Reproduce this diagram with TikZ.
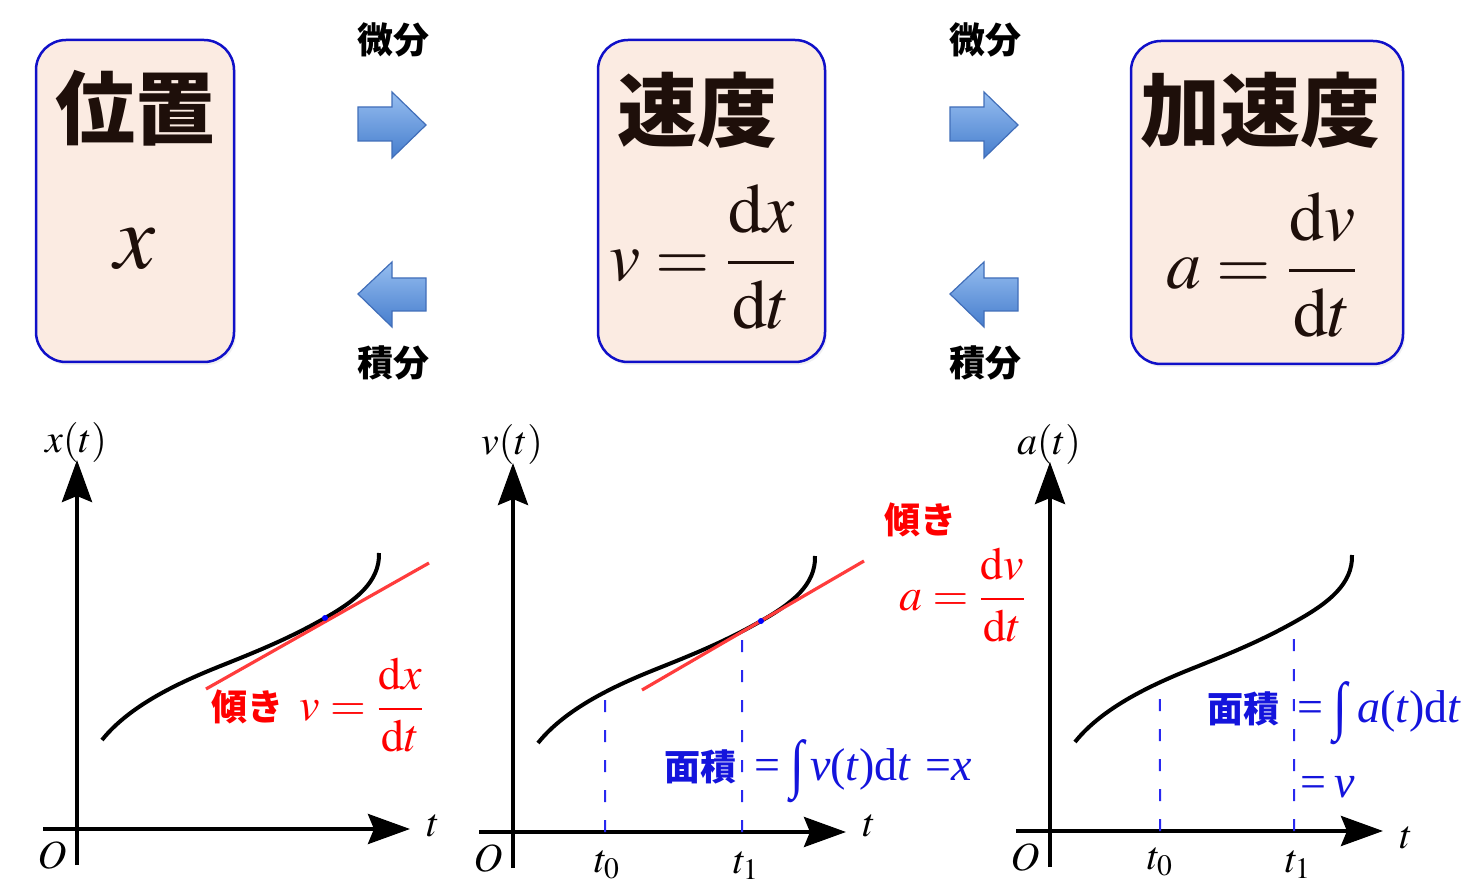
\documentclass[tikz,border=0pt]{standalone}
\usepackage{amsmath}
\usepackage{mathptmx}
\usepackage{fontspec}
\setmainfont{Liberation Serif}
\newfontfamily\jp{Noto Sans CJK JP}
\usetikzlibrary{arrows.meta,intersections,shadows}
\definecolor{hakoiro}{RGB}{251,235,226}
\definecolor{waku}{RGB}{16,16,200}
\definecolor{moji}{RGB}{30,15,10}
\definecolor{ao}{RGB}{20,20,220}
\definecolor{aosen}{RGB}{40,40,240}
\definecolor{aka}{RGB}{255,0,0}
\definecolor{akasen}{RGB}{255,60,60}
\definecolor{yaue}{RGB}{150,190,240}
\definecolor{yashita}{RGB}{70,125,205}
\definecolor{yawaku}{RGB}{65,110,185}
\newcommand\sekibunkigou{\raisebox{-0.12em}{\scalebox{1.1}[1.4]{∫}}}

\begin{document}
\begin{tikzpicture}[x=0.5pt,y=-0.5pt,
  hako/.style={draw=waku, fill=hakoiro, line width=1.25pt, rounded corners=15pt,
    drop shadow={opacity=0.12, shadow xshift=1pt, shadow yshift=-1.5pt}},
  midashi/.style={text=moji, font=\jp\bfseries\fontsize{40}{40}\selectfont, inner sep=0pt},
  shiki/.style={text=moji, font=\fontsize{35}{35}\selectfont, inner sep=0pt},
  ya/.style={top color=yaue, bottom color=yashita, draw=yawaku, line width=0.6pt},
  kotoba/.style={font=\jp\bfseries\fontsize{18}{18}\selectfont, inner sep=0pt},
  jiku/.style={line width=2pt, -{Stealth[length=21pt,width=15pt,inset=3pt]}},
  kyokusen/.style={line width=2pt},
  sessen/.style={draw=akasen, line width=1.6pt},
  hasen/.style={draw=aosen, line width=1pt, dash pattern=on 6pt off 9pt},
  ten/.style={circle, fill=blue, inner sep=0pt, minimum size=3pt},
  jikumoji/.style={font=\fontsize{20}{20}\selectfont, inner sep=0pt},
  akamoji/.style={text=aka, font=\fontsize{23}{23}\selectfont, inner sep=0pt},
  aomoji/.style={text=ao, font=\fontsize{23}{23}\selectfont, inner sep=0pt}]
\useasboundingbox (0,0) rectangle (1474,893);
\newcommand\jpb{\jp\bfseries\fontsize{18}{18}\selectfont}
\newcommand\zahyou[3]{
\coordinate (#1xs) at (43,829);
\coordinate (#1xe) at (410,829);
\coordinate (#1ys) at (77,865);
\coordinate (#1ye) at (77,460);
\draw[jiku] (#1xs) -- (#1xe);
\draw[jiku] (#1ys) -- (#1ye);
\draw[kyokusen, name path=#1k] (102,740) .. controls (130,705) and (180,682) .. (223,665)
  .. controls (258,651) and (290,638) .. (325,618)
  .. controls (355,601) and (380,582) .. (379,553);
\node[jikumoji] (#1O) at (52,855) {$O$};
\node[jikumoji] (#1t) at (433,#3) {$t$};
\node[jikumoji] (#1y) at (76,442) {$#2$};
}

% boxes
\node[hako, minimum width=99pt, minimum height=161pt] (ichi) at (135,201) {};
\node[hako, minimum width=113.5pt, minimum height=161pt] (sokudo) at (711.5,201) {};
\node[hako, minimum width=136pt, minimum height=161.5pt] (kasokudo) at (1267,202.5) {};
\node[midashi] (ichim) at (135,108) {位置};
\node[midashi] (sokudom) at (697,110) {速度};
\node[midashi] (kasokudom) at (1260,110) {加速度};
\node[shiki, font=\fontsize{46}{46}\selectfont] (ichis) at (135,249) {$x$};
\node[shiki] (sokudos) at (703,257) {$v=\dfrac{\mathrm{d}x}{\mathrm{d}t}$};
\node[shiki] (kasokudos) at (1262,265) {$a=\dfrac{\mathrm{d}v}{\mathrm{d}t}$};

% block arrows
\foreach \dx in {0,592}{
\begin{scope}[shift={(\dx,0)}]
\path[ya] (358,107) -- (392,107) -- (392,92) -- (426,125) -- (392,158) -- (392,141) -- (358,141) -- cycle;
\path[ya] (426,278) -- (392,278) -- (392,262) -- (358,294) -- (392,327) -- (392,311) -- (426,311) -- cycle;
\node[kotoba] (bibun\dx) at (393,40) {微分};
\node[kotoba] (sekibun\dx) at (393,363) {積分};
\end{scope}
}

% graphs
\begin{scope}
\zahyou{a}{x(t)}{826}
\coordinate (asa) at (206,689);
\coordinate (asb) at (429,563);
\draw[sessen] (asa) -- (asb);
\node[ten] (aten) at (325,618) {};
\end{scope}
\begin{scope}[shift={(436,3)}]
\zahyou{b}{v(t)}{823}
\coordinate (bsa) at (206,687);
\coordinate (bsb) at (428,558);
\draw[sessen] (bsa) -- (bsb);
\node[ten] (bten) at (325,618) {};
\foreach \n/\tx in {0/169,1/306}{
  \path[name path=bv\n] (\tx,829) -- (\tx,560);
  \coordinate (bt\n) at (\tx,829);
  \path[name intersections={of=bk and bv\n, by=bp\n}];
  \draw[hasen] (bt\n) -- (bp\n);
}
\end{scope}
\begin{scope}[shift={(973,2)}]
\zahyou{c}{a(t)}{836}
\foreach \n/\tx in {0/187,1/321}{
  \path[name path=cv\n] (\tx,829) -- (\tx,560);
  \coordinate (ct\n) at (\tx,829);
  \path[name intersections={of=ck and cv\n, by=cp\n}];
  \draw[hasen] (ct\n) -- (cp\n);
}
\end{scope}

% labels
\node[jikumoji] (bt0m) at (607,865) {$t_0$};
\node[jikumoji] (bt1m) at (746,866) {$t_1$};
\node[jikumoji] (ct0m) at (1160,862) {$t_0$};
\node[jikumoji] (ct1m) at (1298,865) {$t_1$};
\node[akamoji] (katamuki1) at (318,705) {{\jpb 傾き}\hspace{8pt}$v=\dfrac{\mathrm{d}x}{\mathrm{d}t}$};
\node[akamoji] (katamuki2) at (920,520) {\jpb 傾き};
\node[akamoji] (katamuki2s) at (963,595) {$a=\dfrac{\mathrm{d}v}{\mathrm{d}t}$};
\node[aomoji, anchor=base west] (menseki1) at (664,780)
  {{\jpb 面積}\hspace{9pt}=\hspace{5pt}\sekibunkigou\hspace{3pt}\textit{v}(\textit{t})d\textit{t}\hspace{7pt}=\textit{x}};
\node[aomoji, anchor=base west] (menseki2) at (1207,722)
  {{\jpb 面積}\hspace{9pt}=\hspace{5pt}\sekibunkigou\hspace{5pt}\textit{a}(\textit{t})d\textit{t}};
\node[aomoji, anchor=base west] (menseki2v) at (1300,797) {=\hspace{4pt}\textit{v}};
\end{tikzpicture}
\end{document}
